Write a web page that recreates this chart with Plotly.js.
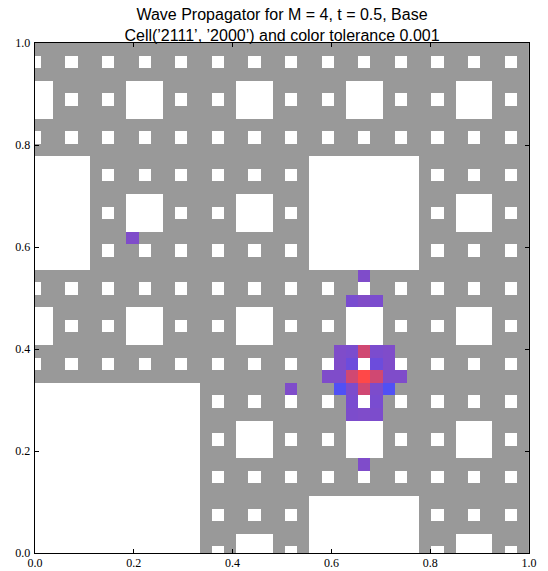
<!DOCTYPE html>
<html>
<head>
<meta charset="utf-8">
<script src="https://cdn.plot.ly/plotly-3.0.1.min.js"></script>
<style>
  html, body { margin: 0; padding: 0; background: #ffffff; }
  #chart { width: 548px; height: 571px; }
</style>
</head>
<body>
<div id="chart"></div>
<script>
// ---- data ----
// Hole map of the carpet, one string per row of cells, top row first.
// 'o' = hole (white), '.' = material (gray). Spaces only group columns by 9.
const holeRows = [
  "......... ......... ......... ......... .....",
  "o..o..o.. o..o..o.. o..o..o.. o..o..o.. o..o.",
  "......... ......... ......... ......... .....",
  "oo......o oo......o oo......o oo......o oo...",
  "oo.o..o.o oo.o..o.o oo.o..o.o oo.o..o.o oo.o.",
  "oo......o oo......o oo......o oo......o oo...",
  "......... ......... ......... ......... .....",
  "o..o..o.. o..o..o.. o..o..o.. o..o..o.. o..o.",
  "......... ......... ......... ......... .....",
  "ooooo.... ......... .....oooo ooooo.... .....",
  "ooooo.o.. o..o..o.. o..o.oooo ooooo.o.. o..o.",
  "ooooo.... ......... .....oooo ooooo.... .....",
  "ooooo...o oo......o oo...oooo ooooo...o oo...",
  "ooooo.o.o oo.o..o.o oo.o.oooo ooooo.o.o oo.o.",
  "ooooo...o oo......o oo...oooo ooooo...o oo...",
  "ooooo.... ......... .....oooo ooooo.... .....",
  "ooooo.o.. o..o..o.. o..o.oooo ooooo.o.. o..o.",
  "ooooo.... ......... .....oooo ooooo.... .....",
  "......... ......... ......... ......... .....",
  "o..o..o.. o..o..o.. o..o..o.. o..o..o.. o..o.",
  "......... ......... ......... ......... .....",
  "oo......o oo......o oo......o oo......o oo...",
  "oo.o..o.o oo.o..o.o oo.o..o.o oo.o..o.o oo.o.",
  "oo......o oo......o oo......o oo......o oo...",
  "......... ......... ......... ......... .....",
  "o..o..o.. o..o..o.. o..o..o.. o..o..o.. o..o.",
  "......... ......... ......... ......... .....",
  "ooooooooo ooooo.... ......... ......... .....",
  "ooooooooo ooooo.o.. o..o..o.. o..o..o.. o..o.",
  "ooooooooo ooooo.... ......... ......... .....",
  "ooooooooo ooooo...o oo......o oo......o oo...",
  "ooooooooo ooooo.o.o oo.o..o.o oo.o..o.o oo.o.",
  "ooooooooo ooooo...o oo......o oo......o oo...",
  "ooooooooo ooooo.... ......... ......... .....",
  "ooooooooo ooooo.o.. o..o..o.. o..o..o.. o..o.",
  "ooooooooo ooooo.... ......... ......... .....",
  "ooooooooo ooooo.... .....oooo ooooo.... .....",
  "ooooooooo ooooo.o.. o..o.oooo ooooo.o.. o..o.",
  "ooooooooo ooooo.... .....oooo ooooo.... .....",
  "ooooooooo ooooo...o oo...oooo ooooo...o oo...",
  "ooooooooo ooooo.o.o oo.o.oooo ooooo.o.o oo.o."
];

// Cells reached by the wave: column index, row index (from bottom), value (0 = blue ... 1 = red)
const waveCol = [27, 26, 27, 28, 25, 26, 27, 28, 29, 25, 26, 28, 29, 24, 25, 26, 27, 28, 29, 30, 25, 26, 27, 28, 29, 26, 28, 26, 27, 28, 27, 21, 8];
const waveRow = [22, 20, 20, 20, 16, 16, 16, 16, 16, 15, 15, 15, 15, 14, 14, 14, 14, 14, 14, 14, 13, 13, 13, 13, 13, 12, 12, 11, 11, 11, 7, 13, 25];
const waveVal = [0.35, 0.30, 0.36, 0.32, 0.35, 0.32, 0.75, 0.32, 0.35, 0.35, 0.20, 0.20, 0.35, 0.35, 0.35, 0.75, 1.00, 0.75, 0.35, 0.35, 0.00, 0.33, 0.75, 0.33, 0.00, 0.30, 0.30, 0.33, 0.35, 0.33, 0.35, 0.35, 0.35];

const tickVals = [0, 0.2, 0.4, 0.6, 0.8, 1.0];
const tickText = ["0.0", "0.2", "0.4", "0.6", "0.8", "1.0"];

const titleText = "Wave Propagator for M = 4, t = 0.5, Base<br>Cell(\u20192111\u2019, \u20192000\u2019) and color tolerance 0.001";

// ---- build the grid ----
const rowsBottomUp = holeRows.map(r => r.replace(/ /g, "")).reverse();
const cell = 2 / 81;
const z = rowsBottomUp.map(r => r.split("").map(c => (c === "o" ? null : -1)));
for (let k = 0; k < waveCol.length; k++) {
  z[waveRow[k]][waveCol[k]] = waveVal[k];
}

const trace = {
  type: "heatmap",
  z: z,
  x0: 0, dx: cell,
  y0: 0, dy: cell,
  zmin: -1, zmax: 1,
  colorscale: [
    [0.0, "#999999"],
    [0.499, "#999999"],
    [0.5, "#5050f5"],
    [0.6, "#6c4cdc"],
    [0.675, "#7f4cca"],
    [0.875, "#d04872"],
    [1.0, "#ff4848"]
  ],
  showscale: false,
  hoverinfo: "skip"
};

const axisCommon = {
  range: [0, 1],
  tickvals: tickVals,
  ticktext: tickText,
  ticks: "inside",
  ticklen: 4,
  tickwidth: 1,
  tickcolor: "#000000",
  showline: true,
  linecolor: "#000000",
  linewidth: 1.3,
  mirror: "ticks",
  showgrid: false,
  zeroline: false,
  tickfont: { family: "Liberation Serif, DejaVu Serif, serif", size: 12, color: "#000000" },
  fixedrange: true
};

const layout = {
  width: 548,
  height: 571,
  margin: { l: 35, r: 19, t: 43, b: 18, pad: 0 },
  paper_bgcolor: "#ffffff",
  plot_bgcolor: "#ffffff",
  title: {
    text: titleText,
    font: { family: "Liberation Sans, Arial, sans-serif", size: 16, color: "#000000" },
    x: 0.5, xref: "paper", xanchor: "center",
    y: 0.970, yref: "container", yanchor: "top",
    pad: { t: 3 }
  },
  xaxis: Object.assign({}, axisCommon, { ticklabelstandoff: -2 }),
  yaxis: Object.assign({}, axisCommon, { ticklabelstandoff: 1 }),
  showlegend: false
};

Plotly.newPlot("chart", [trace], layout, { staticPlot: true, displayModeBar: false });
</script>
</body>
</html>
